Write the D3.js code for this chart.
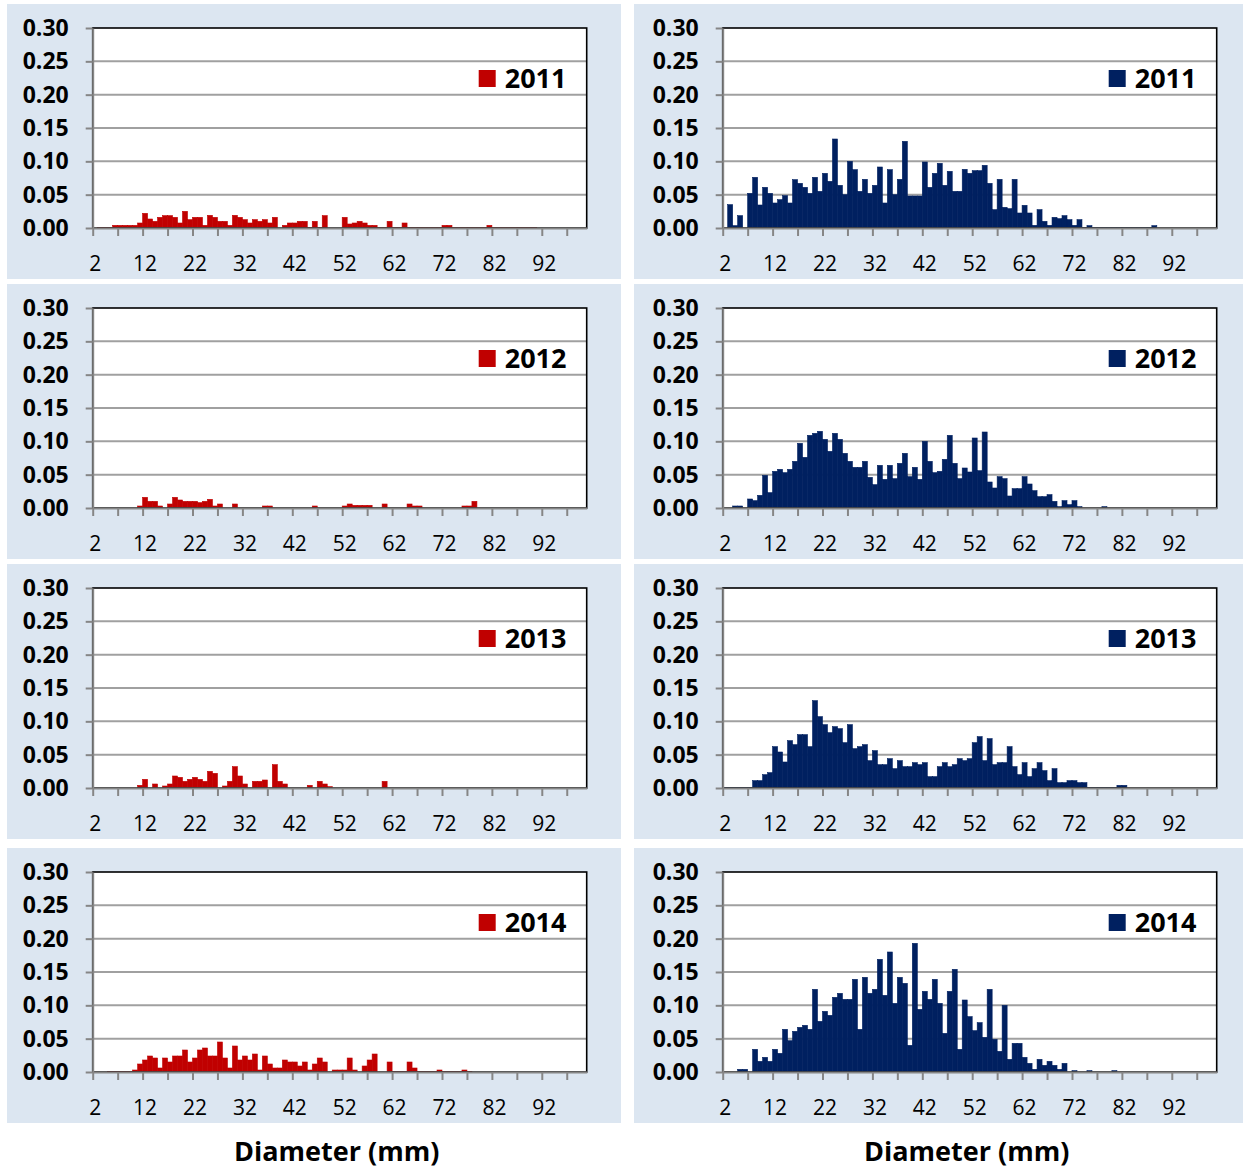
<!DOCTYPE html>
<html>
<head>
<meta charset="utf-8">
<script src="https://cdn.jsdelivr.net/npm/d3@7"></script>
<style>
  body { margin: 0; background: #ffffff; }
  text { font-family: "Open Sans", "DejaVu Sans", sans-serif; }
</style>
</head>
<body>
<svg id="chart"></svg>
<script>
// categories: diameter classes in mm (one bar per class)
var diameters = [2,3,4,5,6,7,8,9,10,11,12,13,14,15,16,17,18,19,20,21,22,23,24,25,26,27,28,29,30,31,
  32,33,34,35,36,37,38,39,40,41,42,43,44,45,46,47,48,49,50,51,52,53,54,55,56,57,58,59,60,61,
  62,63,64,65,66,67,68,69,70,71,72,73,74,75,76,77,78,79,80,81,82,83,84,85,86,87,88,89,90,91,
  92,93,94,95,96,97,98,99,100];
var xLabels = [2,12,22,32,42,52,62,72,82,92];
var yTicks = [0,0.05,0.10,0.15,0.20,0.25,0.30];

// red series (left column)
var red2011 = [0,0.0005,0.001,0.001,0.004,0.004,0.004,0.004,0.004,0.0075,
  0.022,0.0135,0.01,0.016,0.0185,0.0185,0.016,0.0075,0.025,0.0125,
  0.016,0.016,0.004,0.019,0.016,0.01,0.01,0.004,0.019,0.016,
  0.0125,0.0075,0.0125,0.01,0.0125,0.0075,0.016,0,0.004,0.0075,
  0.0075,0.01,0.01,0.001,0.01,0.001,0.0185,0,0,0,
  0.016,0.006,0.0075,0.01,0.0075,0.004,0.004,0.0005,0.0005,0.01,
  0.0005,0.0005,0.0075,0.0005,0.0005,0.0005,0.0005,0.0005,0.0005,0.0005,
  0.004,0.004,0.0005,0.0005,0.0005,0.0005,0.0005,0.0005,0.0005,0.004,
  0.0005,0.0005,0.0005,0.0005,0.0005,0.0005,0.0005,0.0005,0.0005,0,
  0,0,0,0,0,0,0,0,0];
var red2012 = [0,0,0,0,0,0,0,0,0,0.003,
  0.016,0.01,0.01,0.003,0,0.006,0.016,0.012,0.01,0.01,
  0.01,0.008,0.01,0.013,0.003,0.006,0,0,0.006,0,
  0,0,0,0,0.003,0.003,0,0,0,0,
  0,0,0,0,0.003,0,0,0,0,0,
  0.003,0.006,0.004,0.004,0.004,0.004,0,0,0.006,0,
  0,0,0,0.006,0.003,0.003,0,0,0,0,
  0,0,0,0,0.003,0.003,0.01,0,0,0,
  0,0,0,0,0,0,0,0,0,0,
  0,0,0,0,0,0,0,0,0];
var red2013 = [0,0,0,0,0,0,0,0,0,0.004,
  0.013,0,0.006,0,0.003,0.006,0.018,0.016,0.01,0.013,
  0.016,0.013,0.01,0.025,0.022,0,0.003,0.01,0.032,0.018,
  0.006,0,0.01,0.01,0.012,0,0.035,0.01,0.006,0,
  0,0,0,0.004,0,0.01,0.006,0.002,0,0,
  0,0,0,0,0,0,0,0,0.01,0,
  0,0,0,0,0,0,0,0,0,0,
  0,0,0,0,0,0,0,0,0,0,
  0,0,0,0,0,0,0,0,0,0,
  0,0,0,0,0,0,0,0,0];
var red2014 = [0,0,0,0.001,0.001,0.001,0.001,0.001,0.003,0.012,
  0.018,0.024,0.021,0.006,0.021,0.015,0.024,0.024,0.033,0.015,
  0.021,0.033,0.036,0.024,0.024,0.045,0.021,0.006,0.039,0.018,
  0.024,0.018,0.027,0.003,0.024,0.012,0.006,0.006,0.018,0.015,
  0.015,0.009,0.015,0.003,0.012,0.021,0.015,0,0.003,0.003,
  0.003,0.021,0.003,0,0.009,0.018,0.027,0,0,0.015,
  0.0005,0.0005,0.0005,0.015,0.006,0.0005,0.0005,0.0005,0.0005,0.003,
  0.0005,0.0005,0.0005,0.0005,0.003,0.0005,0,0,0,0,
  0,0,0,0,0,0,0,0,0,0,
  0,0,0,0,0,0,0,0,0];

// navy series (right column)
var navy2011 = [0,0.035,0.0035,0.0185,0,0.052,0.076,0.0345,0.061,0.052,
  0.0375,0.0425,0.0485,0.0375,0.0725,0.067,0.061,0.052,0.076,0.055,
  0.082,0.07,0.1335,0.064,0.05,0.10,0.0875,0.055,0.073,0.052,
  0.064,0.0915,0.0375,0.0875,0.05,0.073,0.13,0.048,0.048,0.048,
  0.099,0.061,0.082,0.097,0.064,0.085,0.055,0.055,0.088,0.082,
  0.086,0.086,0.094,0.067,0.0275,0.073,0.031,0.029,0.073,0.0225,
  0.034,0.0225,0.004,0.0275,0.01,0.004,0.016,0.014,0.0185,0.0125,
  0.004,0.0125,0.001,0.0035,0.0005,0.0005,0.0005,0.0005,0.0005,0.0005,
  0.0005,0.0005,0.0005,0.0005,0.0005,0.0005,0.0035,0,0,0,
  0,0,0,0,0,0,0,0,0];
var navy2012 = [0,0,0.003,0.003,0,0.0135,0.011,0.019,0.049,0.023,
  0.055,0.058,0.053,0.058,0.07,0.097,0.076,0.109,0.112,0.115,
  0.103,0.085,0.112,0.103,0.082,0.07,0.061,0.061,0.07,0.046,
  0.035,0.064,0.043,0.064,0.044,0.067,0.082,0.047,0.061,0.043,
  0.10,0.07,0.053,0.055,0.073,0.109,0.067,0.044,0.06,0.054,
  0.105,0.056,0.114,0.039,0.03,0.047,0.044,0.018,0.029,0.029,
  0.047,0.036,0.026,0.017,0.017,0.02,0.01,0.002,0.011,0.005,
  0.011,0.002,0,0,0,0,0.002,0,0,0,
  0,0,0,0,0,0,0,0,0,0,
  0,0,0,0,0,0,0,0,0];
var navy2013 = [0.001,0.001,0.001,0.001,0.001,0.001,0.011,0.011,0.02,0.023,
  0.062,0.054,0.039,0.071,0.065,0.08,0.08,0.062,0.131,0.107,
  0.095,0.083,0.092,0.089,0.068,0.095,0.059,0.062,0.065,0.041,
  0.056,0.035,0.035,0.044,0.029,0.041,0.032,0.032,0.038,0.035,
  0.038,0.017,0.017,0.032,0.038,0.032,0.035,0.044,0.041,0.044,
  0.068,0.077,0.041,0.074,0.035,0.038,0.038,0.062,0.032,0.02,
  0.038,0.017,0.029,0.038,0.026,0.011,0.029,0.008,0.008,0.011,
  0.011,0.008,0.008,0.0005,0.0005,0.0005,0.0005,0.0005,0.0005,0.004,
  0.004,0,0,0,0,0,0,0,0,0,
  0,0,0,0,0,0,0,0,0];
var navy2014 = [0,0,0,0.004,0.004,0,0.034,0.016,0.022,0.016,
  0.034,0.028,0.064,0.047,0.061,0.067,0.07,0.064,0.124,0.076,
  0.091,0.085,0.112,0.118,0.109,0.109,0.139,0.064,0.142,0.118,
  0.124,0.169,0.115,0.18,0.103,0.142,0.133,0.04,0.193,0.094,
  0.121,0.109,0.139,0.103,0.058,0.121,0.154,0.034,0.108,0.083,
  0.062,0.074,0.052,0.124,0.049,0.031,0.1,0.019,0.043,0.043,
  0.022,0.013,0.004,0.019,0.01,0.016,0.01,0.004,0.013,0,
  0.002,0,0,0.002,0,0,0,0,0.002,0,
  0,0,0,0,0,0,0,0,0,0,
  0,0,0,0,0,0,0,0,0];

var years = ["2011", "2012", "2013", "2014"];
var redSeries = [red2011, red2012, red2013, red2014];
var navySeries = [navy2011, navy2012, navy2013, navy2014];

var svg = d3.select("#chart")
    .attr("width", 1243)
    .attr("height", 1171);

// layout of the 2 x 4 grid
var cols = [
    {bgX: 7, bgW: 614, plotX: 92.7, color: "#c00000", series: redSeries},
    {bgX: 634, bgW: 609, plotX: 722.7, color: "#002060", series: navySeries}
];
var rows = [
    {bgY: 4, bgH: 275, plotY: 28},
    {bgY: 284, bgH: 275, plotY: 308},
    {bgY: 564, bgH: 275, plotY: 588},
    {bgY: 848, bgH: 275, plotY: 872}
];
var plotW = 494, plotH = 200;

var x = d3.scaleBand()
    .domain(diameters)
    .range([0, plotW])
    .padding(0);
// continuous copy of the category axis, for the tick marks between classes
var xEdge = d3.scaleLinear()
    .domain([0, diameters.length])
    .range([0, plotW]);
var y = d3.scaleLinear()
    .domain([0, 0.30])
    .range([plotH, 0]);

function drawPanel(col, row, values, year) {
    svg.append("rect")
        .attr("x", col.bgX).attr("y", row.bgY)
        .attr("width", col.bgW).attr("height", row.bgH)
        .attr("fill", "#dce6f1");

    var g = svg.append("g")
        .attr("transform", "translate(" + col.plotX + "," + row.plotY + ")");

    g.append("rect")
        .attr("width", plotW).attr("height", plotH)
        .attr("fill", "#ffffff");

    // gridlines
    g.selectAll(".grid")
        .data(yTicks.slice(1, -1))
        .enter().append("line")
        .attr("x1", 0).attr("x2", plotW)
        .attr("y1", function(d) { return y(d); })
        .attr("y2", function(d) { return y(d); })
        .attr("stroke", "#a0a0a0")
        .attr("stroke-width", 2);

    // bars
    g.selectAll(".bar")
        .data(values)
        .enter().append("rect")
        .attr("x", function(d, i) { return x(diameters[i]); })
        .attr("width", x.bandwidth())
        .attr("y", function(d) { return y(d); })
        .attr("height", function(d) { return plotH - y(d); })
        .attr("fill", col.color)
        .attr("stroke", col.color)
        .attr("stroke-width", 0.6);

    // plot border (top and right show black)
    g.append("rect")
        .attr("width", plotW).attr("height", plotH)
        .attr("fill", "none")
        .attr("stroke", "#000000")
        .attr("stroke-width", 1.6);

    // y axis
    var yAxis = g.append("g")
        .call(d3.axisLeft(y)
            .tickValues(yTicks)
            .tickFormat(d3.format(".2f"))
            .tickSize(7)
            .tickSizeOuter(0)
            .tickPadding(17));
    yAxis.selectAll("line, path").attr("stroke", "#868686").attr("stroke-width", 2);
    yAxis.selectAll("text")
        .attr("fill", "#000")
        .style("font-size", "23px")
        .style("font-weight", "bold");

    // x axis: tick marks every 5 classes
    var xTickAxis = g.append("g")
        .attr("transform", "translate(0," + plotH + ")")
        .call(d3.axisBottom(xEdge)
            .tickValues(d3.range(0, diameters.length, 5))
            .tickFormat("")
            .tickSize(8)
            .tickSizeOuter(0));
    xTickAxis.selectAll("line, path").attr("stroke", "#868686").attr("stroke-width", 2);

    // x axis: labels every 10 classes
    var xLabelAxis = g.append("g")
        .attr("transform", "translate(0," + plotH + ")")
        .call(d3.axisBottom(x)
            .tickValues(xLabels)
            .tickSize(0)
            .tickPadding(28));
    xLabelAxis.select(".domain").remove();
    xLabelAxis.selectAll("text")
        .attr("fill", "#000")
        .style("font-size", "21px");

    // legend
    g.append("rect")
        .attr("x", plotW - 108).attr("y", 42)
        .attr("width", 17).attr("height", 17)
        .attr("fill", col.color);
    g.append("text")
        .attr("x", plotW - 82).attr("y", 60)
        .style("font-size", "27px")
        .style("font-weight", "bold")
        .attr("fill", "#000")
        .text(year);
}

cols.forEach(function(col) {
    rows.forEach(function(row, r) {
        drawPanel(col, row, col.series[r], years[r]);
    });
    svg.append("text")
        .attr("x", col.plotX + plotW / 2 - 3)
        .attr("y", 1161)
        .attr("text-anchor", "middle")
        .style("font-size", "27px")
        .style("font-weight", "bold")
        .attr("fill", "#000")
        .text("Diameter (mm)");
});
</script>
</body>
</html>
